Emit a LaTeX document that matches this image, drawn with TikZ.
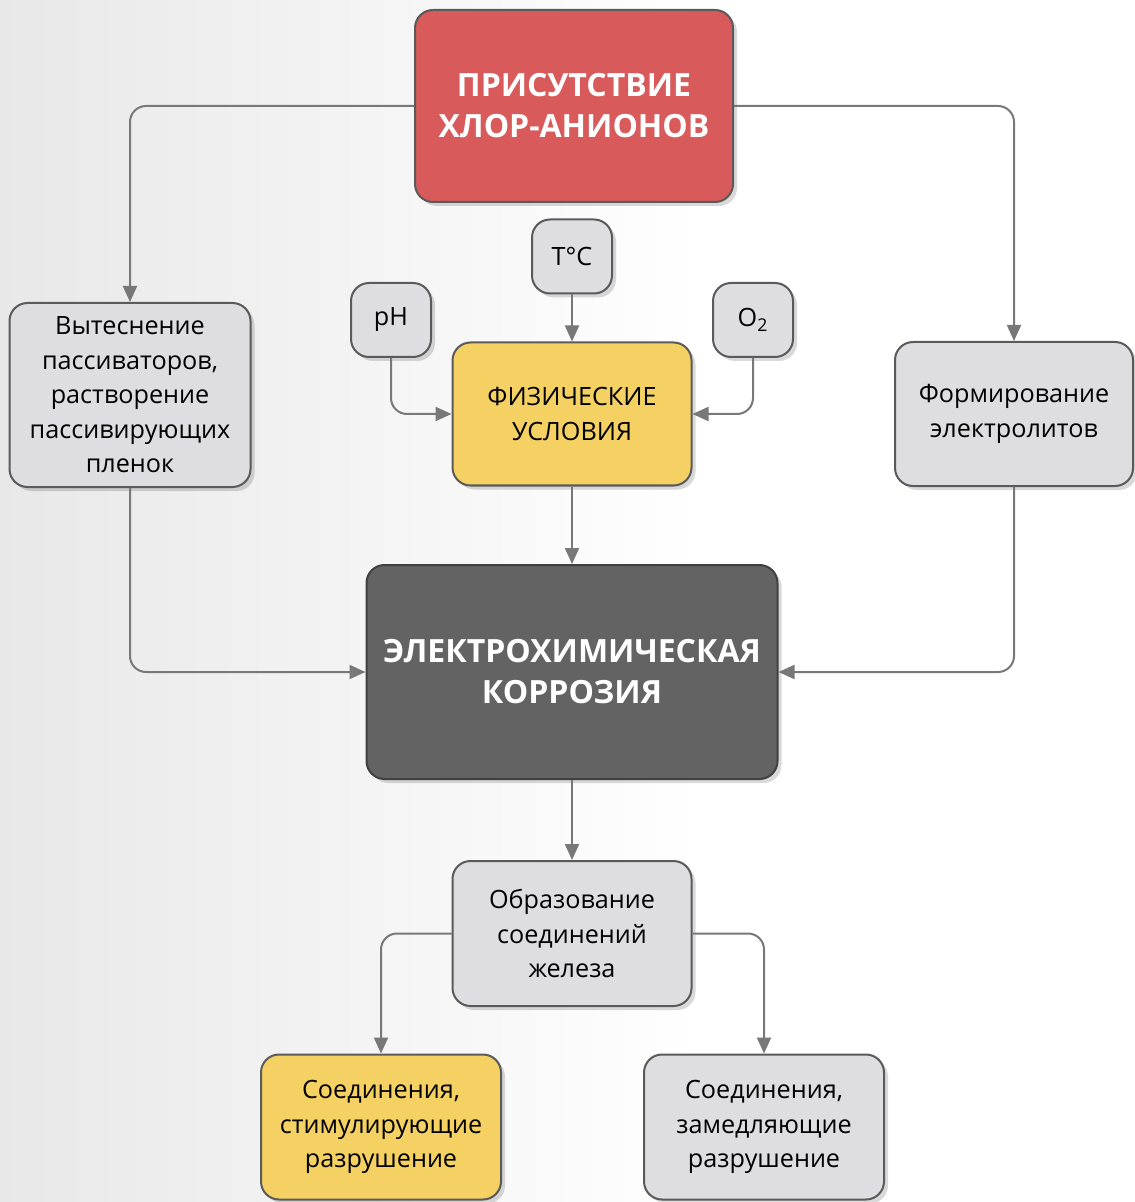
\documentclass[tikz,border=0pt]{standalone}
\usepackage{fontspec}
\setmainfont{Open Sans}
\usetikzlibrary{positioning,shadows,arrows.meta}

\definecolor{chlorred}{HTML}{D85A5A}
\definecolor{physyellow}{HTML}{F4D162}
\definecolor{greyfill}{HTML}{DDDDE2}
\definecolor{darkfill}{HTML}{636363}
\definecolor{boxline}{HTML}{5A5A5A}
\definecolor{flowline}{HTML}{787878}

\begin{document}
\begin{tikzpicture}[x=0.5pt,y=-0.5pt]
        \tikzstyle{box}=[draw=boxline, line width=1pt, rounded corners=9pt, align=center, inner sep=0pt,
            font=\fontsize{12.6}{17.25}\selectfont,
            drop shadow={shadow xshift=2pt, shadow yshift=-2pt, fill=black, opacity=.15}]
        \tikzstyle{greybox}=[box, fill=greyfill]
        \tikzstyle{smallbox}=[greybox, minimum width=40pt, minimum height=37pt]
        \tikzstyle{headbox}=[box, text=white, font=\bfseries\fontsize{16}{20.5}\selectfont]
        \tikzstyle{flow}=[draw=flowline, line width=1pt, rounded corners=8pt, -{Triangle[length=8pt, width=7pt]}]

        % background
        \fill[white] (0,0) rectangle (1134,1202);
        \shade[left color=black!9, right color=white] (0,0) rectangle (700,1202);
        \useasboundingbox (0,0) rectangle (1134,1202);

        \node (chlor) [headbox, fill=chlorred, minimum width=159pt, minimum height=96pt] at (574,106)
            {ПРИСУТСТВИЕ\\ХЛОР-АНИОНОВ};
        \node (displ) [greybox, minimum width=120.5pt, minimum height=92pt] at (130,395)
            {Вытеснение\\пассиваторов,\\растворение\\пассивирующих\\пленок};
        \node (phys) [box, fill=physyellow, minimum width=119.5pt, minimum height=71.5pt] at (572,414)
            {ФИЗИЧЕСКИЕ\\УСЛОВИЯ};
        \node (form) [greybox, minimum width=119pt, minimum height=72pt] at (1014,414)
            {Формирование\\электролитов};
        \node (temp) [smallbox, above=23.5pt of phys] {T°C};
        \node (ph) [smallbox] at (391,320) {pH};
        \node (oxy) [smallbox] at (753,320) {O\textsubscript{2}};
        \node (elec) [headbox, fill=darkfill, draw=black!75, minimum width=205.5pt, minimum height=107pt] at (572,672)
            {ЭЛЕКТРОХИМИЧЕСКАЯ\\КОРРОЗИЯ};
        \node (iron) [greybox, minimum width=119.5pt, minimum height=72.5pt, below=40pt of elec]
            {Образование\\соединений\\железа};
        \node (stim) [box, fill=physyellow, minimum width=120pt, minimum height=72.5pt] at (381,1127)
            {Соединения,\\стимулирующие\\разрушение};
        \node (slow) [greybox, minimum width=120pt, minimum height=72.5pt] at (764,1127)
            {Соединения,\\замедляющие\\разрушение};

        \draw[flow] (chlor.west) -| (displ.north);
        \draw[flow] (chlor.east) -| (form.north);
        \draw[flow] (temp) -- (phys);
        \draw[flow] (ph.south) |- (phys.west);
        \draw[flow] (oxy.south) |- (phys.east);
        \draw[flow] (phys) -- (elec);
        \draw[flow] (displ.south) |- (elec.west);
        \draw[flow] (form.south) |- (elec.east);
        \draw[flow] (elec) -- (iron);
        \draw[flow] (iron.west) -| (stim.north);
        \draw[flow] (iron.east) -| (slow.north);

    \end{tikzpicture}
\end{document}
